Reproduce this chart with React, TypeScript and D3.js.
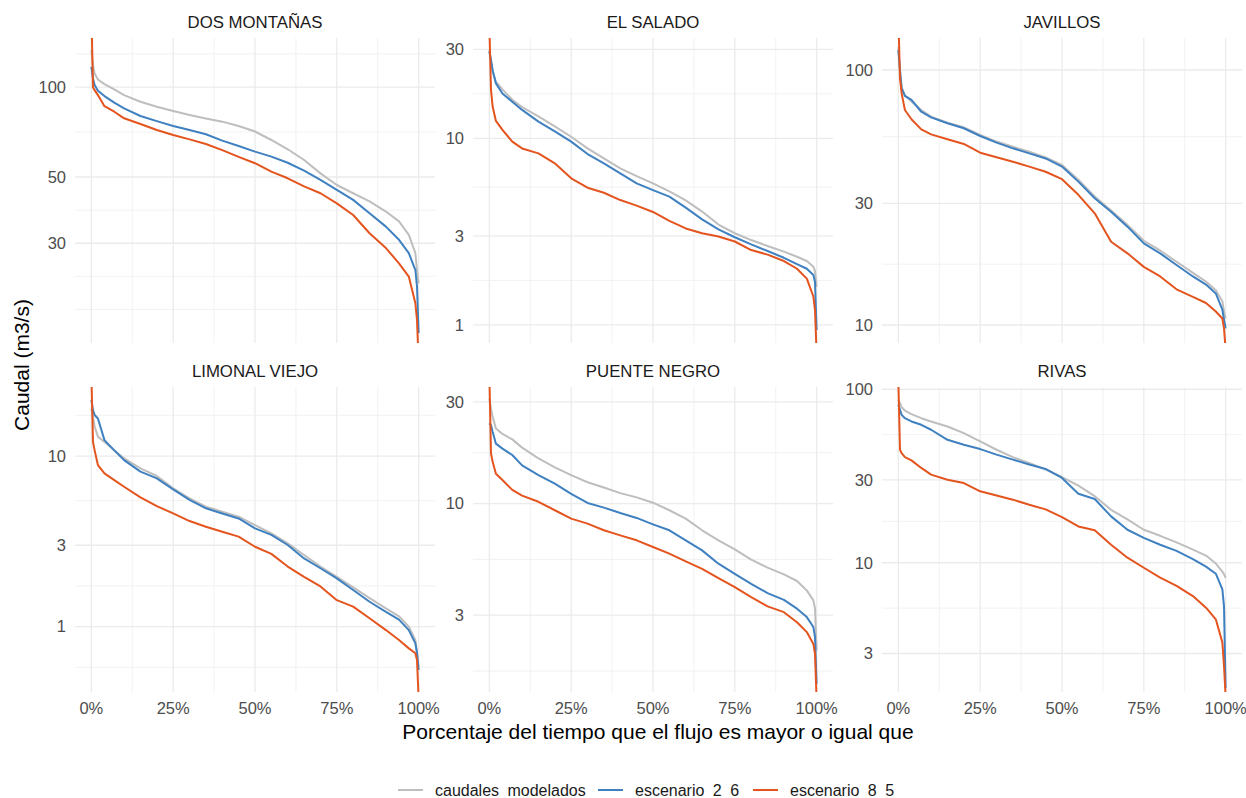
import React from "react";
import * as d3 from "d3";

// porcentaje del tiempo (eje x)
const pct = [0, 0.5, 1, 2, 4, 7, 10, 15, 20, 25, 30, 35, 40, 45, 50, 55, 60, 65, 70, 75, 80, 85, 90, 94, 97, 99, 99.5, 100];

const estaciones = ["DOS MONTAÑAS", "EL SALADO", "JAVILLOS", "LIMONAL VIEJO", "PUENTE NEGRO", "RIVAS"];

// caudales (m3/s), por estacion y serie
const dosMontanasModelados = [133, 118.5, 111, 106, 102.3, 98.2, 94, 89.3, 85.9, 83.1, 80.6, 78.5, 76.6, 74.1, 71, 66.5, 61.9, 57, 51.4, 47, 44.1, 41.4, 38.3, 35.5, 32, 27.8, 24.4, 22];
const dosMontanasEsc26 = [116.9, 106.9, 101.6, 97.2, 93.3, 88.7, 84.9, 80, 76.9, 74.1, 71.8, 69.5, 66.2, 63.5, 60.8, 58.5, 55.8, 52.5, 48.9, 45.3, 41.9, 37.8, 34.1, 30.8, 27.8, 24.4, 21.5, 15];
const dosMontanasEsc85 = [180, 99.7, 97.7, 94, 86.3, 82.7, 78.6, 75.2, 71.8, 69.1, 66.8, 64.5, 61.5, 58.4, 55.6, 52.1, 49.5, 46.5, 44.1, 40.8, 37.3, 32.4, 28.9, 25.7, 23.2, 18.9, 16.6, 12];

const elSaladoModelados = [29.8, 25.8, 22.8, 20.1, 18.3, 16.1, 14.7, 13.1, 11.6, 10.2, 8.83, 7.81, 6.9, 6.28, 5.74, 5.2, 4.65, 4.05, 3.45, 3.1, 2.85, 2.65, 2.47, 2.32, 2.2, 2.05, 1.95, 1.6];
const elSaladoEsc26 = [29.2, 26.3, 23.2, 19.7, 17.4, 15.7, 14.2, 12.3, 10.9, 9.6, 8.24, 7.35, 6.49, 5.74, 5.28, 4.87, 4.25, 3.68, 3.25, 2.95, 2.7, 2.49, 2.29, 2.12, 2.0, 1.85, 1.7, 0.94];
const elSaladoEsc85 = [40, 18.2, 14.8, 12.4, 11.1, 9.6, 8.83, 8.31, 7.35, 6.11, 5.44, 5.11, 4.67, 4.36, 4.03, 3.61, 3.29, 3.1, 2.98, 2.8, 2.52, 2.38, 2.2, 2.0, 1.77, 1.42, 1.2, 0.7];

const javillosModelados = [123, 97, 85.5, 79.5, 75.2, 69.7, 65.6, 62.1, 59.6, 55.6, 52.4, 50, 47.8, 45.4, 42.4, 37.1, 31.9, 28.1, 24.7, 21.4, 19.6, 17.7, 16, 14.8, 13.7, 12.4, 11.3, 10.6];
const javillosEsc26 = [119.8, 100, 84.7, 79.1, 76.3, 68.6, 65.2, 61.8, 59.1, 55.1, 51.9, 49.3, 47.1, 45, 41.8, 36.5, 31.4, 27.8, 24.3, 20.9, 19.1, 17.2, 15.5, 14.4, 13.3, 11.5, 10.5, 9.7];
const javillosEsc85 = [160, 92.8, 81, 69.7, 64.1, 58.5, 55.9, 53.5, 51.3, 47.4, 45.5, 43.7, 41.8, 39.9, 37.3, 32.4, 27.4, 21.2, 19.1, 16.9, 15.5, 13.8, 12.9, 12.2, 11.3, 10.6, 9.7, 8];

const limonalModelados = [19, 17, 14.9, 13, 12.1, 10.8, 9.69, 8.47, 7.64, 6.47, 5.65, 5.05, 4.72, 4.41, 3.94, 3.52, 3.08, 2.63, 2.25, 1.96, 1.7, 1.47, 1.28, 1.15, 1, 0.835, 0.714, 0.583];
const limonalEsc26 = [21.3, 18.6, 17.4, 16.6, 12.4, 10.8, 9.47, 8.1, 7.4, 6.38, 5.53, 4.94, 4.61, 4.31, 3.77, 3.45, 3.01, 2.51, 2.2, 1.92, 1.64, 1.4, 1.22, 1.1, 0.955, 0.798, 0.698, 0.557];
const limonalEsc85 = [30, 12.1, 10.8, 8.86, 7.91, 7.23, 6.61, 5.72, 5.09, 4.61, 4.16, 3.85, 3.6, 3.37, 2.94, 2.67, 2.25, 1.96, 1.72, 1.43, 1.31, 1.12, 0.955, 0.835, 0.746, 0.698, 0.638, 0.38];

const puenteNegroModelados = [31.1, 27.9, 25.5, 22.5, 21.2, 20, 18.3, 16.3, 14.8, 13.6, 12.6, 11.9, 11.2, 10.7, 10.1, 9.31, 8.51, 7.5, 6.73, 6.11, 5.46, 5.01, 4.66, 4.34, 3.92, 3.52, 3.22, 2.05];
const puenteNegroEsc26 = [23.8, 23.3, 21.7, 19.1, 18.1, 16.9, 15.1, 13.6, 12.4, 11.1, 10.07, 9.58, 9.04, 8.57, 8, 7.5, 6.73, 6.04, 5.23, 4.69, 4.21, 3.81, 3.54, 3.22, 2.94, 2.64, 2.37, 1.43];
const puenteNegroEsc85 = [40, 17.2, 15.7, 13.8, 12.9, 11.6, 10.9, 10.2, 9.31, 8.51, 8.06, 7.5, 7.1, 6.73, 6.26, 5.83, 5.36, 4.95, 4.48, 4.06, 3.65, 3.3, 3.1, 2.78, 2.5, 2.2, 1.98, 1.2];

const rivasModelados = [86.8, 83.1, 78.8, 75.4, 71.8, 68.1, 65.2, 61, 55.8, 50, 44.8, 40.6, 37.6, 34.4, 31.2, 27.8, 24.2, 20.2, 17.8, 15.5, 14.3, 13.1, 11.9, 11, 9.9, 8.9, 8.6, 8.2];
const rivasEsc26 = [81.3, 76, 71.2, 68.1, 65.2, 62.4, 58.4, 51.1, 47.9, 45.2, 42, 39.3, 36.8, 34.7, 30.8, 25.0, 23.3, 18.5, 15.5, 13.9, 12.7, 11.7, 10.5, 9.5, 8.65, 7.03, 5.6, 1.9];
const rivasEsc85 = [110, 44.8, 42.8, 40.6, 38.9, 35.2, 32.2, 30.1, 28.8, 25.8, 24.4, 23.1, 21.6, 20.3, 18.3, 16.2, 15.4, 12.7, 10.7, 9.36, 8.2, 7.35, 6.43, 5.51, 4.72, 3.47, 2.55, 1.7];

// limites y cortes del eje y (escala log) por panel
const yLimits = [[13.9, 146], [0.8, 34.5], [8.5, 133.5], [0.414, 25.4], [1.31, 35.2], [1.8, 103]];
const yBreaks = [[30, 50, 100], [1, 3, 10, 30], [10, 30, 100], [1, 3, 10], [3, 10, 30], [3, 10, 30, 100]];
const xBreaks = [0, 25, 50, 75, 100];

const seriesNames = ["caudales modelados", "escenario 2 6", "escenario 8 5"];
const seriesColors = ["#BEBEBE", "#3F80C0", "#E4541E"];

const panelData = [
  [dosMontanasModelados, dosMontanasEsc26, dosMontanasEsc85],
  [elSaladoModelados, elSaladoEsc26, elSaladoEsc85],
  [javillosModelados, javillosEsc26, javillosEsc85],
  [limonalModelados, limonalEsc26, limonalEsc85],
  [puenteNegroModelados, puenteNegroEsc26, puenteNegroEsc85],
  [rivasModelados, rivasEsc26, rivasEsc85],
];

const W = 1246;
const H = 798;
const colLeft = [75, 473, 882];
const rowTop = [38, 387];
const panelW = 360;
const panelH = 305;
const font = "'Liberation Sans', Arial, sans-serif";

// cortes menores como ggplot: puntos medios en espacio log, extendidos un paso
function minorBreaks(breaks: number[], lim: number[]) {
  const L = breaks.map(Math.log10);
  const bd = L[1] - L[0];
  const ext = [L[0] - bd, ...L, L[L.length - 1] + bd];
  const out: number[] = [];
  for (let i = 0; i < ext.length - 1; i++) {
    out.push(ext[i], (ext[i] + ext[i + 1]) / 2);
  }
  out.push(ext[ext.length - 1]);
  const lo = Math.log10(lim[0]);
  const hi = Math.log10(lim[1]);
  return out
    .filter((v) => v >= lo && v <= hi && !L.some((m) => Math.abs(m - v) < 1e-9))
    .map((v) => Math.pow(10, v));
}

const Panel = ({ idx }: { idx: number }) => {
  const col = idx % 3;
  const row = Math.floor(idx / 3);
  const left = colLeft[col];
  const top = rowTop[row];
  const x = d3.scaleLinear().domain([-5, 105]).range([left, left + panelW]);
  const y = d3.scaleLog().domain(yLimits[idx]).range([top + panelH, top]);
  const minors = minorBreaks(yBreaks[idx], yLimits[idx]);
  const xMinors = xBreaks.slice(1).map((b, i) => (b + xBreaks[i]) / 2);
  const line = d3
    .line<number>()
    .x((_, i) => x(pct[i]))
    .y((v) => y(v));
  const clipId = `clip-${idx}`;

  return (
    <g>
      <clipPath id={clipId}>
        <rect x={left} y={top} width={panelW} height={panelH} />
      </clipPath>
      {/* rejilla */}
      {minors.map((m) => (
        <line key={`ym${m}`} x1={left} x2={left + panelW} y1={y(m)} y2={y(m)} stroke="#EFEFEF" strokeWidth={0.8} />
      ))}
      {xMinors.map((m) => (
        <line key={`xm${m}`} x1={x(m)} x2={x(m)} y1={top} y2={top + panelH} stroke="#EFEFEF" strokeWidth={0.8} />
      ))}
      {yBreaks[idx].map((b) => (
        <line key={`y${b}`} x1={left} x2={left + panelW} y1={y(b)} y2={y(b)} stroke="#EBEBEB" strokeWidth={1.3} />
      ))}
      {xBreaks.map((b) => (
        <line key={`x${b}`} x1={x(b)} x2={x(b)} y1={top} y2={top + panelH} stroke="#EBEBEB" strokeWidth={1.3} />
      ))}
      {/* series */}
      <g clipPath={`url(#${clipId})`}>
        {panelData[idx].map((vals, s) => (
          <path key={s} d={line(vals) || ""} fill="none" stroke={seriesColors[s]} strokeWidth={2} strokeLinejoin="round" />
        ))}
      </g>
      {/* etiquetas eje y */}
      {yBreaks[idx].map((b) => (
        <text key={`t${b}`} x={left - 9} y={y(b)} dy="0.35em" textAnchor="end" fontSize={16.5} fill="#4D4D4D" fontFamily={font}>
          {b}
        </text>
      ))}
      {/* etiquetas eje x solo en fila inferior */}
      {row === 1 &&
        xBreaks.map((b) => (
          <text key={`tx${b}`} x={x(b)} y={top + panelH + 16} dy="0.35em" textAnchor="middle" fontSize={16.5} fill="#4D4D4D" fontFamily={font}>
            {`${b}%`}
          </text>
        ))}
      {/* titulo del panel */}
      <text x={left + panelW / 2} y={top - 16} dy="0.35em" textAnchor="middle" fontSize={16.8} fill="#1A1A1A" fontFamily={font}>
        {estaciones[idx]}
      </text>
    </g>
  );
};

const legendX = [398, 598, 753];

export default function App() {
  return (
    <svg width={W} height={H} style={{ position: "absolute", left: 0, top: 0, background: "#fff" }}>
      <rect width={W} height={H} fill="#fff" />
      {estaciones.map((_, i) => (
        <Panel key={i} idx={i} />
      ))}
      <text x={658} y={732} dy="0.35em" textAnchor="middle" fontSize={21} fill="#000" fontFamily={font}>
        Porcentaje del tiempo que el flujo es mayor o igual que
      </text>
      <text transform="translate(22,365) rotate(-90)" dy="0.35em" textAnchor="middle" fontSize={21} fill="#000" fontFamily={font}>
        Caudal (m3/s)
      </text>
      {seriesNames.map((name, i) => (
        <g key={name}>
          <line x1={legendX[i]} x2={legendX[i] + 25} y1={790} y2={790} stroke={seriesColors[i]} strokeWidth={2} />
          <text x={legendX[i] + 37} y={790} dy="0.35em" fontSize={16} fill="#1A1A1A" fontFamily={font} wordSpacing={4}>
            {name}
          </text>
        </g>
      ))}
    </svg>
  );
}
